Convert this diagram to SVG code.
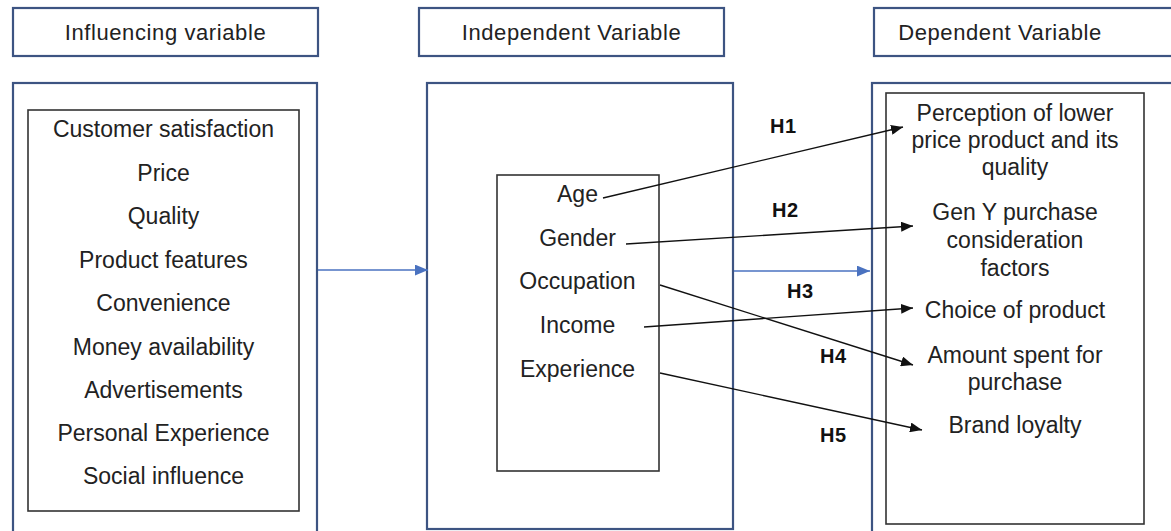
<svg xmlns="http://www.w3.org/2000/svg" width="1171" height="531" viewBox="0 0 1171 531">
<defs>
<style>
.outer{fill:#fff;stroke:#3d5482;stroke-width:2.2}
.inner{fill:#fff;stroke:#333;stroke-width:1.6}
.t{font-family:"Liberation Sans",Arial,sans-serif;font-size:23px;fill:#222;text-anchor:middle}
.hd{font-family:"Liberation Sans",Arial,sans-serif;font-size:22px;fill:#222;text-anchor:middle;letter-spacing:0.6px}
.h{font-family:"Liberation Sans",Arial,sans-serif;font-size:20px;font-weight:bold;fill:#111;letter-spacing:0.5px}
.blk{stroke:#111;stroke-width:1.4;fill:none;marker-end:url(#ab)}
.blu{stroke:#4a72c0;stroke-width:1.6;fill:none;marker-end:url(#au)}
</style>
<marker id="ab" viewBox="0 0 12 10" refX="12" refY="5" markerWidth="12" markerHeight="10" markerUnits="userSpaceOnUse" orient="auto"><path d="M0,0 L12,5 L0,10 z" fill="#111"/></marker>
<marker id="au" viewBox="0 0 12 10" refX="12" refY="5" markerWidth="13" markerHeight="11" markerUnits="userSpaceOnUse" orient="auto"><path d="M0,0 L12,5 L0,10 z" fill="#4a72c0"/></marker>
</defs>
<rect width="1171" height="531" fill="#fff"/>

<g id="header-influencing">
<rect class="outer" x="13" y="8" width="305" height="48"/>
<text class="hd" x="165.5" y="40">Influencing variable</text>
</g>
<g id="header-independent">
<rect class="outer" x="419" y="8" width="305" height="48"/>
<text class="hd" x="571.5" y="40">Independent Variable</text>
</g>
<g id="header-dependent">
<rect class="outer" x="874" y="8" width="320" height="48"/>
<text class="hd" x="1000" y="40">Dependent Variable</text>
</g>

<g id="influencing">
<rect class="outer" x="13" y="83" width="304" height="460"/>
<rect class="inner" x="28" y="110" width="271" height="401"/>
<text class="t" x="163.5" y="137">Customer satisfaction</text>
<text class="t" x="163.5" y="181">Price</text>
<text class="t" x="163.5" y="224">Quality</text>
<text class="t" x="163.5" y="268">Product features</text>
<text class="t" x="163.5" y="311">Convenience</text>
<text class="t" x="163.5" y="355">Money availability</text>
<text class="t" x="163.5" y="398">Advertisements</text>
<text class="t" x="163.5" y="441">Personal Experience</text>
<text class="t" x="163.5" y="484">Social influence</text>
</g>

<g id="independent">
<rect class="outer" x="427" y="83" width="306" height="446"/>
<rect class="inner" x="497" y="175" width="162" height="296"/>
<text class="t" x="577.5" y="202">Age</text>
<text class="t" x="577.5" y="246">Gender</text>
<text class="t" x="577.5" y="289">Occupation</text>
<text class="t" x="577.5" y="333">Income</text>
<text class="t" x="577.5" y="377">Experience</text>
</g>

<g id="dependent">
<rect class="outer" x="872" y="83" width="320" height="460"/>
<rect class="inner" x="886" y="93" width="258" height="431"/>
<text class="t" x="1015" y="121">Perception of lower</text>
<text class="t" x="1015" y="148">price product and its</text>
<text class="t" x="1015" y="175">quality</text>
<text class="t" x="1015" y="220">Gen Y purchase</text>
<text class="t" x="1015" y="248">consideration</text>
<text class="t" x="1015" y="276">factors</text>
<text class="t" x="1015" y="318">Choice of product</text>
<text class="t" x="1015" y="363">Amount spent for</text>
<text class="t" x="1015" y="390">purchase</text>
<text class="t" x="1015" y="433">Brand loyalty</text>
</g>

<g id="connectors">
<line class="blu" x1="318" y1="270" x2="428" y2="270"/>
<line class="blu" x1="734" y1="271" x2="870" y2="271"/>
<line class="blk" x1="603" y1="198" x2="903" y2="127"/>
<line class="blk" x1="626" y1="244" x2="913" y2="226"/>
<line class="blk" x1="644" y1="327" x2="913" y2="308"/>
<line class="blk" x1="660" y1="285" x2="913" y2="365"/>
<line class="blk" x1="660" y1="373" x2="922" y2="430"/>
</g>

<g id="labels">
<text class="h" x="770" y="133">H1</text>
<text class="h" x="772" y="217">H2</text>
<text class="h" x="787" y="298">H3</text>
<text class="h" x="820" y="363">H4</text>
<text class="h" x="820" y="442">H5</text>
</g>
</svg>
